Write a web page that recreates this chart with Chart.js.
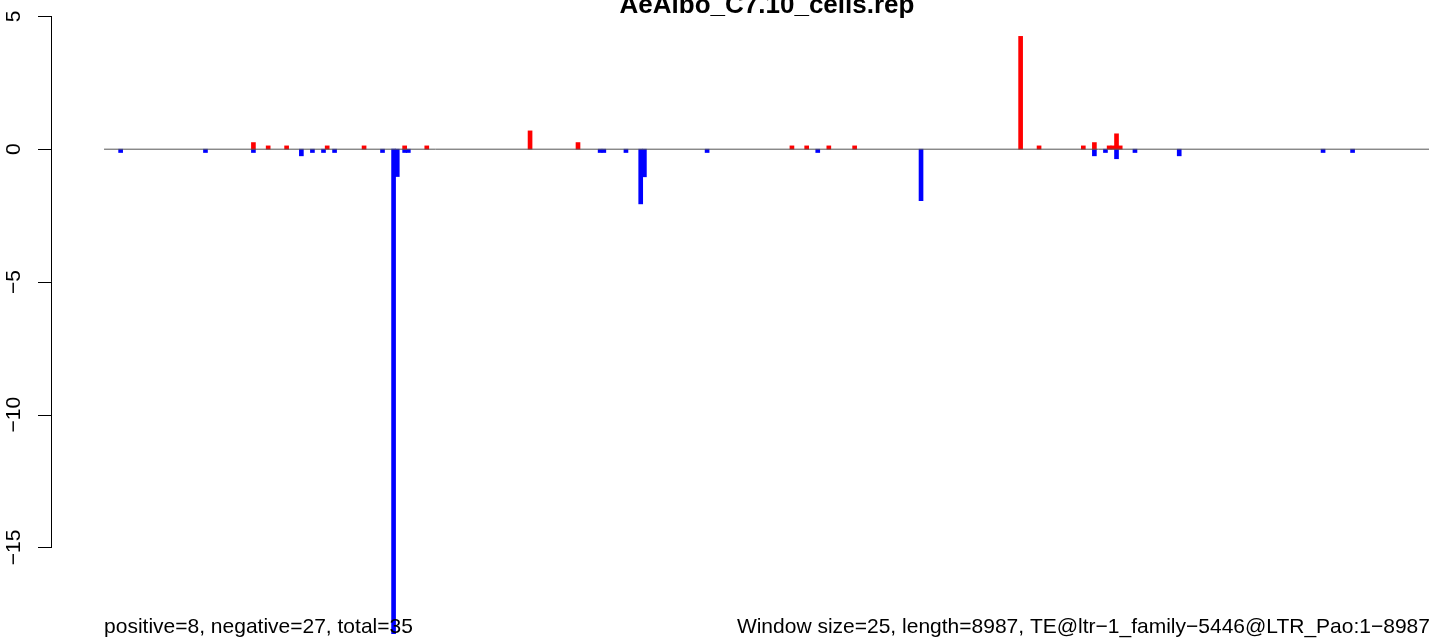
<!DOCTYPE html>
<html>
<head>
<meta charset="utf-8">
<script src="https://cdn.jsdelivr.net/npm/chart.js@4/dist/chart.umd.min.js"></script>
<style>
  html, body { margin: 0; padding: 0; background: #fff; }
  canvas { display: block; }
</style>
</head>
<body>
<canvas id="rep-chart" width="1429" height="639"></canvas>
<script>
const chartTitle = "AeAlbo_C7.10_cells.rep"
const windowSize = 25
const seqLength = 8987
const footLeft = "positive=8, negative=27, total=35"
const footRight = "Window size=25, length=8987, TE@ltr\u22121_family\u22125446@LTR_Pao:1\u22128987"

// window start positions (bp) and values
const posStarts = [1000, 1100, 1225, 1500, 1750, 2025, 2175, 2875, 3200, 4650, 4750, 4900, 5075,
  6200, 6325, 6625, 6700, 6800, 6825, 6850, 6875]
const posValues = [0.25, 0.125, 0.125, 0.125, 0.125, 0.125, 0.125, 0.69, 0.25, 0.125, 0.125, 0.125, 0.125,
  4.25, 0.125, 0.125, 0.25, 0.125, 0.125, 0.58, 0.125]

const negStarts = [100, 675, 1000, 1325, 1400, 1475, 1550, 1875, 1950, 1975, 2025, 2050, 3350, 3375,
  3525, 3625, 3650, 4075, 4825, 5525, 6700, 6775, 6850, 6975, 7275, 8250, 8450]
const negValues = [-0.125, -0.125, -0.125, -0.25, -0.125, -0.125, -0.125, -0.125, -18.25, -1.03, -0.125, -0.125, -0.125, -0.125,
  -0.125, -2.06, -1.04, -0.125, -0.125, -1.94, -0.25, -0.125, -0.36, -0.125, -0.25, -0.125, -0.125]

const yTicks = [5, 0, -5, -10, -15]

const toPoints = (starts, values) => starts.map((s, i) => ({ x: s + windowSize / 2, y: values[i] }))

const fontFamily = '"Liberation Sans", Arial, Helvetica, sans-serif'

// R style y axis, title and margin texts
const rDecor = {
  id: "rDecor",
  afterDraw(chart) {
    const ctx = chart.ctx
    const y = chart.scales.y
    const x = chart.scales.x
    const left = chart.chartArea.left
    ctx.save()
    ctx.strokeStyle = "#000"
    ctx.lineWidth = 1
    ctx.beginPath()
    ctx.moveTo(left + 0.5, y.getPixelForValue(yTicks[0]))
    ctx.lineTo(left + 0.5, y.getPixelForValue(yTicks[yTicks.length - 1]))
    yTicks.forEach((t) => {
      const py = Math.round(y.getPixelForValue(t)) + 0.5
      ctx.moveTo(left - 13, py)
      ctx.lineTo(left + 1, py)
    })
    ctx.stroke()

    ctx.fillStyle = "#000"
    ctx.font = "21px " + fontFamily
    ctx.textAlign = "center"
    ctx.textBaseline = "middle"
    yTicks.forEach((t) => {
      ctx.save()
      ctx.translate(14, y.getPixelForValue(t))
      ctx.rotate(-Math.PI / 2)
      ctx.fillText(String(t).replace("-", "\u2212"), 0, 0)
      ctx.restore()
    })

    ctx.textBaseline = "alphabetic"
    ctx.font = "bold 26px " + fontFamily
    ctx.textAlign = "center"
    ctx.fillText(chartTitle, x.getPixelForValue(seqLength / 2), 13)

    ctx.font = "21px " + fontFamily
    ctx.textAlign = "left"
    ctx.fillText(footLeft, x.getPixelForValue(0), 633)
    ctx.textAlign = "right"
    ctx.fillText(footRight, x.getPixelForValue(seqLength), 633)
    ctx.restore()
  },
}

// R pads the x range by 4%; the right side of the plot region is cropped off
const pad = seqLength * 0.04
const cropped = 366

new Chart(document.getElementById("rep-chart"), {
  type: "bar",
  data: {
    datasets: [
      {
        type: "line",
        data: [{ x: 0, y: 0 }, { x: seqLength, y: 0 }],
        borderColor: "#555555",
        borderWidth: 1,
        pointRadius: 0,
        order: 0,
      },
      {
        data: toPoints(posStarts, posValues),
        backgroundColor: "#ff0000",
        borderWidth: 0,
        barThickness: 4,
        grouped: false,
        order: 1,
      },
      {
        data: toPoints(negStarts, negValues),
        backgroundColor: "#0000ff",
        borderWidth: 0,
        barThickness: 4,
        grouped: false,
        order: 1,
      },
    ],
  },
  options: {
    responsive: false,
    animation: false,
    layout: { padding: { left: 51, right: 0, top: 0, bottom: 0 } },
    plugins: {
      legend: { display: false },
      title: { display: false },
      tooltip: { enabled: false },
    },
    scales: {
      x: { type: "linear", display: false, offset: false, min: -pad, max: seqLength + pad - cropped },
      y: { display: false, min: -18.45, max: 5.62 },
    },
  },
  plugins: [rDecor],
})
</script>
</body>
</html>
